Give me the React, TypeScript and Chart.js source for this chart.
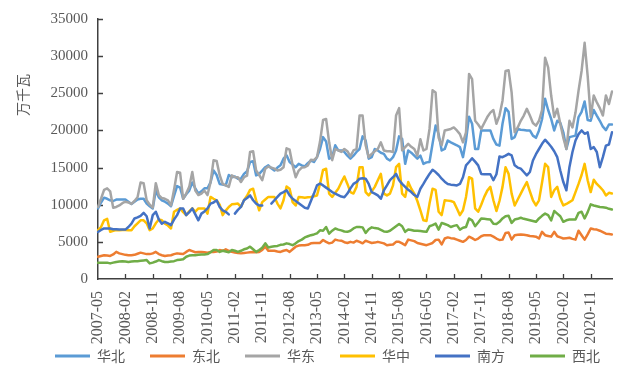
import React, { useEffect, useRef } from 'react';
import { Chart, registerables } from 'chart.js';

Chart.register(...registerables);

// ---- categories: monthly, 2007-05 .. 2021-06 ----
const startYear = 2007;
const startMonth = 5;
const monthCount = 170;
const months: string[] = [];
for (let k = 0; k < monthCount; k++) {
  const m = startMonth - 1 + k;
  const y = startYear + Math.floor(m / 12);
  const mm = (m % 12) + 1;
  months.push(`${y}-${mm < 10 ? '0' + mm : mm}`);
}
const tickEvery = 9;

// ---- series values (万千瓦) ----
const huabei: (number | null)[] = [
  9500, 10300, 10950, 10800, 10600, 10500, 10700, 10700, 10700, 10700, 10400, 10100,
  10400, 10700, 10800, 10800, 10150, 9800, 9500, 11900, 11000, 10600, 10400, 10150,
  9800, 11200, 12500, 12300, 10800, 11400, 11900, 13000, 12200, 11500, 11800, 12200,
  12200, 13000, 14600, 14000, 12800, 12700, 12600, 14000, 13700, 13800, 13500, 13500,
  14150, 14500, 15750, 15850, 13950, 14150, 14600, 15050, 15300, 14900, 14600, 15000,
  15300, 16200, 16650, 15750, 15400, 15050, 15500, 15300, 15150, 15600, 15950, 15750,
  16400, 17500, 19100, 18500, 16200, 16400, 18000, 17300, 17300, 17100, 16600, 16200,
  16600, 17100, 17500, 19200, 18650, 16200, 16400, 17500, 17300, 17000, 16850, 16200,
  15950, 16400, 17300, 19200, 18850, 15500, 17300, 17000, 16600, 16200, 16600, 15500,
  15700, 15750, 18200, 20650, 19500, 17300, 17500, 18650, 18400, 18200, 18000, 17750,
  16400, 18650, 21850, 20900, 17500, 17500, 20000, 20000, 20000, 20000, 18850, 18100,
  17950, 20900, 23000, 22500, 18850, 19100, 20200, 20100, 20050, 20000, 20000, 19300,
  19000, 20000, 21500, 24250, 22750, 21550, 20000, 21300, 21000, 19750, 17500, 19100,
  19200, 19300, 21800, 22500, 23900, 21400, 21300, 22750, 22000, 21300, 20500, 20050,
  20800, 20800,
];

const dongbei: (number | null)[] = [
  3000, 3100, 3200, 3150, 3100, 3300, 3650, 3450, 3350, 3250, 3200, 3200,
  3250, 3400, 3550, 3450, 3350, 3350, 3450, 3650, 3350, 3200, 3100, 3150,
  3200, 3350, 3450, 3400, 3350, 3650, 3900, 3750, 3600, 3650, 3650, 3600,
  3550, 3650, 3650, 3700, 3900, 3800, 4000, 3800, 3650, 3550, 3500, 3450,
  3500, 3550, 3600, 3650, 3600, 3650, 3900, 4350, 3800, 3800, 3800, 3700,
  3650, 3800, 3900, 3650, 4000, 4350, 4500, 4550, 4550, 4600, 4800, 4850,
  4850, 4850, 5250, 5000, 4800, 4900, 5300, 5200, 5150, 4950, 4850, 5000,
  4900, 5150, 5000, 4800, 5150, 5000, 4850, 4900, 5000, 4900, 4800, 4550,
  4600, 4650, 5000, 5000, 4800, 4550, 5300, 5200, 5100, 4850, 4750, 4650,
  4550, 4700, 4850, 5250, 5300, 4650, 5450, 5600, 5500, 5450, 5300, 5150,
  5000, 5250, 5700, 5500, 5250, 5450, 5750, 5900, 5900, 5900, 5700, 5450,
  5250, 5300, 6200, 6250, 5300, 5900, 5950, 6000, 5950, 5900, 5800, 5750,
  5700, 5450, 6350, 5900, 5800, 5700, 6350, 5750, 5600, 5450, 5500, 5550,
  5400, 5300, 6500, 5900, 5300, 6000, 6800, 6700, 6650, 6500, 6300, 6100,
  6050, 6000,
];

const huadong: (number | null)[] = [
  9700, 10800, 12000, 12200, 11800, 9600, 9700, 9900, 10200, 10400, 10300, 10100,
  10500, 11000, 13000, 12900, 10600, 10000, 9600, 12900, 11300, 10900, 10800, 10600,
  9900, 12000, 14400, 14300, 10800, 11500, 12400, 14400, 11900, 11300, 11500, 11900,
  11300, 13000, 16000, 15900, 14000, 12800, 12600, 12400, 13950, 13700, 13700, 13050,
  13700, 13900, 17100, 17200, 14600, 14000, 13300, 14850, 15150, 15000, 14850, 14600,
  14700, 15050, 17600, 17400, 15300, 13700, 14600, 15000, 15050, 15300, 16050, 16000,
  16400, 18500, 21400, 21550, 18400, 16000, 17500, 17300, 17100, 17500, 17200, 16500,
  17300, 17500, 22000, 22000, 18000, 16400, 16850, 17200, 17500, 18400, 17300, 17200,
  17200, 17100, 22000, 23000, 17300, 17750, 18200, 17800, 17500, 16600, 18800, 17300,
  17500, 20200, 25400, 25100, 19000, 18000, 20000, 20100, 20200, 20400, 20000, 19500,
  18400, 19750, 27600, 26900, 21300, 20800, 20200, 21000, 21800, 22400, 22750, 20900,
  22000, 24000, 28000, 28100, 25100, 19750, 20400, 21300, 22000, 22900, 22000, 21000,
  20650, 21300, 22750, 29800, 28500, 24700, 21800, 22900, 20900, 19000, 17500, 21300,
  20400, 22400, 25350, 28000, 31800, 27350, 21800, 24700, 23800, 23000, 22000, 24700,
  23550, 25250,
];

const huazhong: (number | null)[] = [
  6570, 7000, 7900, 8100, 6350, 6500, 6600, 6570, 6600, 6600, 6570, 6570,
  7100, 7500, 7900, 7900, 7500, 6570, 6800, 7500, 8000, 7900, 7450, 7200,
  6800, 9050, 9300, 9500, 9000, 8600, 9100, 9500, 9050, 9500, 9500, 9500,
  8800, 11050, 10800, 10600, 10000, 8600, 9200, 9700, 10050, 10100, 10150, 9700,
  10600, 11200, 12000, 12150, 10600, 9250, 10350, 10700, 11050, 11050, 11050, 10150,
  9500, 10600, 12450, 12150, 10350, 9900, 11050, 11000, 10950, 11000, 11050, 11150,
  11250, 12800, 14700, 14850, 11500, 11050, 11600, 12150, 13000, 13800, 12800, 11700,
  11500, 12400, 15050, 15050, 11700, 11250, 11800, 12400, 13300, 14150, 11500, 11250,
  11500, 12600, 15050, 15500, 11500, 11050, 13050, 12150, 11500, 10500, 9250, 7900,
  7800, 10150, 12150, 12000, 9050, 8600, 10600, 10550, 10500, 10350, 9500, 8600,
  9250, 11050, 13700, 13500, 9500, 9050, 10000, 11050, 11900, 12400, 10600, 9150,
  10500, 12400, 15050, 14150, 11500, 9900, 10700, 11500, 12300, 13050, 11800, 10600,
  9900, 10600, 13000, 15500, 15050, 11050, 11950, 12400, 10800, 9900, 10100, 10350,
  10600, 11700, 12800, 14000, 15500, 13300, 11700, 13350, 12800, 12400, 11950, 11250,
  11600, 11500,
];

const nanfang: (number | null)[] = [
  6350, 6600, 6800, 6800, 6800, 6700, 6700, 6650, 6650, 6650, 7000, 7450,
  8150, 8300, 8500, 8900, 8450, 6800, 8600, 9050, 8000, 7450, 7700, 7500,
  7250, 8000, 8600, 9500, 9500, 8600, 9000, 9500, 8700, 7900, 8800, 9100,
  9500, 10150, 10300, 10600, 9700, 9250, 9050, 8700, null, 8800, 9300, 9700,
  10600, 10900, 11250, 10600, 10150, 9900, 9900, null, null, 10150, 10600, 11050,
  11500, 11700, 11950, 11250, 10800, 10500, 10200, 9900, 9600, 9500, 10500, 11500,
  12600, 12850, 12600, 12300, 12000, 11700, 11500, 11300, 11100, 11000, 11500, 12200,
  12800, 13050, 13500, 13550, 13500, 12800, 11700, 11500, 11250, 10800, 11950, 12600,
  13300, 13700, 14150, 13300, 12800, 12400, 12000, 11700, 11300, 11050, 12150, 12800,
  13500, 14150, 14700, 14400, 14000, 13500, 13100, 12800, 12700, 12650, 12600, 12800,
  13700, 15300, 15750, 16250, 15800, 15300, 14150, 14100, 14100, 14100, 13300, 14100,
  16500, 16400, 16600, 16850, 16650, 15300, 15000, 14850, 14400, 13950, 14400, 15950,
  16800, 17500, 18200, 18750, 18300, 17800, 17200, 16400, 14600, 13050, 11950, 15050,
  17100, 18650, 19500, 20000, 19550, 19750, 17500, 17750, 17100, 15050, 16400, 17950,
  18100, 19750,
];

const xibei: (number | null)[] = [
  2200, 2200, 2200, 2200, 2100, 2200, 2300, 2350, 2400, 2350, 2300, 2350,
  2400, 2400, 2450, 2500, 2550, 2100, 2200, 2350, 2550, 2400, 2300, 2300,
  2350, 2400, 2550, 2600, 2650, 3000, 3150, 3200, 3200, 3250, 3300, 3300,
  3350, 3600, 3900, 3900, 3650, 3800, 3700, 3600, 3900, 3800, 3650, 3800,
  4000, 4100, 4350, 4000, 3650, 3900, 4200, 4800, 4250, 4350, 4400, 4450,
  4600, 4650, 4800, 4700, 4550, 4800, 5100, 5300, 5600, 5750, 5900, 6000,
  6150, 6550, 6500, 7000, 6100, 6500, 6800, 6650, 6550, 6400, 6350, 6500,
  6800, 7000, 7000, 6950, 6200, 6700, 6950, 6850, 6800, 6600, 6400, 6350,
  6500, 6800, 7100, 7400, 7100, 6350, 6650, 6600, 6500, 6500, 6450, 6400,
  6350, 7100, 7250, 7450, 6650, 7550, 7400, 7250, 7000, 7150, 7250, 6650,
  6900, 7000, 8150, 7900, 7100, 7600, 8150, 8100, 8050, 8000, 7450, 7400,
  7700, 8150, 8450, 8500, 7550, 8000, 8100, 8250, 8100, 8000, 7900, 7800,
  7700, 8150, 8500, 8800, 8600, 7900, 9150, 8800, 8450, 7700, 7900, 8000,
  8000, 8000, 8900, 9050, 8150, 9000, 10050, 9900, 9800, 9700, 9650, 9600,
  9450, 9350,
];

const seriesNames = ['华北', '东北', '华东', '华中', '南方', '西北'];
const seriesColors = ['#5B9BD5', '#ED7D31', '#A5A5A5', '#FFC000', '#4472C4', '#70AD47'];
const seriesData = [huabei, dongbei, huadong, huazhong, nanfang, xibei];

const yMax = 35000;
const yStep = 5000;
const yTitle = '万千瓦';

const textColor = '#595959';
const axisColor = '#404040';
const numFont = 'Liberation Serif';
const cjkFont = 'Noto Sans CJK SC';

const decorPlugin = {
  id: 'decor',
  beforeDatasetsDraw(chart: any) {
    const { ctx, chartArea, scales } = chart;
    const xs = scales.x;
    const ys = scales.y;
    ctx.save();
    ctx.strokeStyle = axisColor;
    ctx.lineWidth = 1.3;
    ctx.beginPath();
    ys.ticks.forEach((t: any) => {
      if (t.value === 0) return;
      const py = Math.round(ys.getPixelForValue(t.value)) + 0.5;
      ctx.moveTo(chartArea.left, py);
      ctx.lineTo(chartArea.left + 5, py);
    });
    for (let i = tickEvery; i < months.length; i += tickEvery) {
      const px = Math.round(xs.getPixelForValue(i)) + 0.5;
      ctx.moveTo(px, chartArea.bottom);
      ctx.lineTo(px, chartArea.bottom - 5);
    }
    ctx.stroke();
    ctx.restore();
  },
  afterDraw(chart: any) {
    const { ctx, chartArea, scales } = chart;
    const xs = scales.x;
    ctx.save();
    ctx.fillStyle = textColor;
    // x-axis category labels, rotated
    ctx.font = `16px "${numFont}"`;
    ctx.textAlign = 'right';
    ctx.textBaseline = 'middle';
    for (let i = 0; i < months.length; i += tickEvery) {
      const px = xs.getPixelForValue(i);
      ctx.save();
      ctx.translate(px, chartArea.bottom + 12);
      ctx.rotate(-Math.PI / 2);
      ctx.fillText(months[i], 0, 0);
      ctx.restore();
    }
    // y-axis title
    ctx.font = `14px "${cjkFont}"`;
    ctx.textAlign = 'center';
    ctx.textBaseline = 'middle';
    ctx.translate(23, 95);
    ctx.rotate(-Math.PI / 2);
    ctx.fillText(yTitle, 0, 0);
    ctx.restore();
  },
};

export default function App() {
  const canvasRef = useRef<HTMLCanvasElement | null>(null);

  useEffect(() => {
    document.body.style.margin = '0';
    const canvas = canvasRef.current;
    if (!canvas) return;
    const chart = new Chart(canvas, {
      type: 'line',
      data: {
        labels: months,
        datasets: seriesNames.map((name, idx) => ({
          label: name,
          data: seriesData[idx],
          borderColor: seriesColors[idx],
          backgroundColor: seriesColors[idx],
          borderWidth: 2.5,
          pointRadius: 0,
          pointHoverRadius: 0,
          tension: 0,
          spanGaps: false,
          borderJoinStyle: 'round',
          borderCapStyle: 'round',
          order: seriesNames.length - idx,
        })),
      },
      options: {
        animation: false,
        responsive: false,
        maintainAspectRatio: false,
        events: [],
        layout: { padding: { left: 14, right: 0, top: 18, bottom: 5 } },
        scales: {
          x: {
            type: 'category',
            offset: false,
            grid: { display: false, drawTicks: false },
            border: { display: true, color: axisColor, width: 1.5 },
            ticks: { display: false },
            afterFit: (scale: any) => {
              scale.height = 45;
            },
          },
          y: {
            min: 0,
            max: yMax,
            grid: { display: false, drawTicks: false },
            border: { display: true, color: axisColor, width: 1.5 },
            ticks: {
              stepSize: yStep,
              padding: 10,
              color: textColor,
              font: { family: numFont, size: 15 },
              callback: (v: any) => String(v),
            },
            afterFit: (scale: any) => {
              scale.width = 84;
            },
          },
          yRightSpace: {
            position: 'right',
            display: true,
            min: 0,
            max: yMax,
            grid: { display: false, drawTicks: false },
            border: { display: false },
            ticks: { display: false },
            afterFit: (scale: any) => {
              scale.width = 29;
            },
          },
        },
        plugins: {
          tooltip: { enabled: false },
          legend: {
            display: true,
            position: 'bottom',
            labels: {
              boxWidth: 35,
              boxHeight: 3,
              padding: 25,
              color: textColor,
              font: { family: cjkFont, size: 14 },
              generateLabels: (ch: any) => {
                const items = (Chart.defaults.plugins.legend.labels as any).generateLabels(ch);
                return items
                  .map((it: any) => ({ ...it, lineWidth: 0, fillStyle: seriesColors[it.datasetIndex] }))
                  .sort((a: any, b: any) => a.datasetIndex - b.datasetIndex);
              },
            },
          },
        },
      } as any,
      plugins: [decorPlugin],
    });
    return () => chart.destroy();
  }, []);

  return (
    <div style={{ width: 641, height: 378, background: '#fff' }}>
      <canvas ref={canvasRef} width={641} height={378} style={{ display: 'block' }} />
    </div>
  );
}
